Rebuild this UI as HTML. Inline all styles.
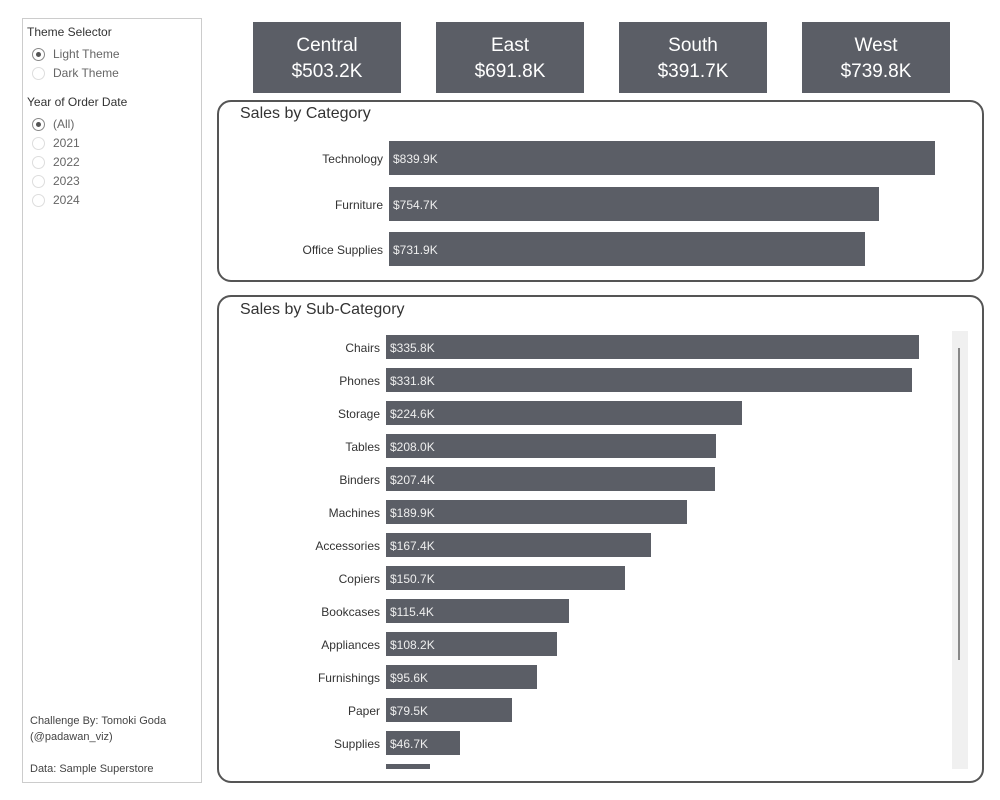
<!DOCTYPE html>
<html><head><meta charset="utf-8"><style>
*{margin:0;padding:0;box-sizing:border-box}
body{width:1000px;height:800px;background:#fff;position:relative;overflow:hidden;font-family:"Liberation Sans",sans-serif;color:#333}
.a{position:absolute}
.side{left:22px;top:18px;width:180px;height:765px;border:1px solid #ccc}
.h{font-size:12px;color:#333}
.r{font-size:12px;color:#666;display:flex;align-items:center}
.rad{width:13px;height:13px;border:1px solid #ddd;border-radius:50%;margin-right:8px;position:relative;background:#fff}
.rad.on{border-color:#888}
.rad.on:after{content:"";position:absolute;left:3px;top:3px;width:5px;height:5px;border-radius:50%;background:#555}
.kpi{top:22px;width:148px;height:71px;background:#5b5e66;color:#fff;text-align:center;font-size:19px;line-height:26px;padding-top:11px}
.panel{left:217px;width:767px;border:2px solid #555;border-radius:14px}
.title{font-size:16px;color:#333}
.bar{background:#5b5e66;color:#eee;font-size:12px;padding-left:4px;display:flex;align-items:center;padding-top:1px}
.lbl{font-size:12px;color:#333;text-align:right;width:200px}
.ft{font-size:11px;color:#444;left:30px}
</style></head><body>
<div class="a side"></div>
<div class="a h" style="left:27px;top:25px">Theme Selector</div>
<div class="a r" style="left:32px;top:47px"><span class="rad on"></span>Light Theme</div>
<div class="a r" style="left:32px;top:66px"><span class="rad"></span>Dark Theme</div>
<div class="a h" style="left:27px;top:95px">Year of Order Date</div>
<div class="a r" style="left:32px;top:117px"><span class="rad on"></span>(All)</div>
<div class="a r" style="left:32px;top:136px"><span class="rad"></span>2021</div>
<div class="a r" style="left:32px;top:155px"><span class="rad"></span>2022</div>
<div class="a r" style="left:32px;top:174px"><span class="rad"></span>2023</div>
<div class="a r" style="left:32px;top:193px"><span class="rad"></span>2024</div>
<div class="a ft" style="top:715px">Challenge By: Tomoki Goda</div>
<div class="a ft" style="top:731px">(@padawan_viz)</div>
<div class="a ft" style="top:763px">Data: Sample Superstore</div>

<div class="a kpi" style="left:253px">Central<br>$503.2K</div>
<div class="a kpi" style="left:436px">East<br>$691.8K</div>
<div class="a kpi" style="left:619px">South<br>$391.7K</div>
<div class="a kpi" style="left:802px">West<br>$739.8K</div>

<div class="a panel" style="top:100px;height:182px"></div>
<div class="a title" style="left:240px;top:105px">Sales by Category</div>
<div class="a lbl" style="left:183px;top:152px">Technology</div>
<div class="a bar" style="left:389px;top:141px;width:546px;height:34px">$839.9K</div>
<div class="a lbl" style="left:183px;top:198px">Furniture</div>
<div class="a bar" style="left:389px;top:187px;width:490px;height:34px">$754.7K</div>
<div class="a lbl" style="left:183px;top:243px">Office Supplies</div>
<div class="a bar" style="left:389px;top:232px;width:476px;height:34px">$731.9K</div>

<div class="a panel" style="top:295px;height:488px"></div>
<div class="a title" style="left:240px;top:301px">Sales by Sub-Category</div>
<div class="a" style="left:952px;top:331px;width:16px;height:438px;background:#f0f0f0"></div>
<div class="a" style="left:958px;top:348px;width:2px;height:312px;background:#888"></div>
<div id="sub"></div>
<div class="a" style="left:386px;top:764px;width:44px;height:5px;background:#5b5e66"></div>
<script>
var d=[["Chairs","$335.8K",919],["Phones","$331.8K",912],["Storage","$224.6K",742],["Tables","$208.0K",716],["Binders","$207.4K",715],["Machines","$189.9K",687],["Accessories","$167.4K",651],["Copiers","$150.7K",625],["Bookcases","$115.4K",569],["Appliances","$108.2K",557],["Furnishings","$95.6K",537],["Paper","$79.5K",512],["Supplies","$46.7K",460]];
var h="";d.forEach(function(e,i){var t=335+i*33;h+='<div class="a lbl" style="left:180px;top:'+(t+6)+'px">'+e[0]+'</div><div class="a bar" style="left:386px;top:'+t+'px;width:'+(e[2]-386)+'px;height:24px">'+e[1]+'</div>';});
document.getElementById("sub").innerHTML=h;
</script>
</body></html>
